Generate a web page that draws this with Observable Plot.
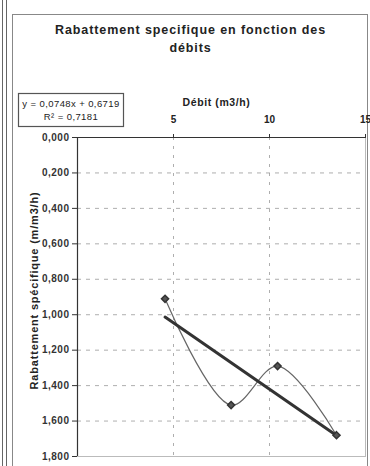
<!DOCTYPE html>
<html><head><meta charset="utf-8">
<script src="https://cdn.jsdelivr.net/npm/d3@7"></script>
<script src="https://cdn.jsdelivr.net/npm/@observablehq/plot@0.6"></script>
<style>body{margin:0;background:#fff;overflow:hidden}</style>
</head><body><div id="chart"></div>
<script>
const debits = [4.56, 8.0, 10.42, 13.49];
const rabattements = [0.91, 1.51, 1.29, 1.68];
const xTicks = [5, 10, 15];
const yTicks = [0, 0.2, 0.4, 0.6, 0.8, 1.0, 1.2, 1.4, 1.6, 1.8];
const slope = 0.0748, intercept = 0.6719;
const title = ["Rabattement specifique en fonction des", "débits"];
const xLabel = "Débit (m3/h)";
const yLabel = "Rabattement spécifique (m/m3/h)";
const eqLines = ["y = 0,0748x + 0,6719", "R² = 0,7181"];

const pts = debits.map((x, i) => ({x, y: rabattements[i]}));
const xMin = d3.min(debits), xMax = d3.max(debits);
const trend = [xMin, xMax].map(x => ({x, y: slope * x + intercept}));
const fmt = d => d3.format(".3f")(d).replace(".", ",");

const W = 370, H = 466;
const mT = 137, mB = 10, mL = 77;
const chart = Plot.plot({
  width: W, height: H,
  marginTop: mT, marginLeft: mL, marginRight: 5, marginBottom: mB,
  style: {fontFamily: "Liberation Sans, Arial, sans-serif", fontSize: "10px", color: "#222", background: "#fff"},
  x: {domain: [0, 15], axis: null},
  y: {domain: [0, 1.8], reverse: true, axis: null},
  marks: [
    Plot.gridY(yTicks.slice(1, -1), {stroke: "#999", strokeOpacity: 1, strokeDasharray: "4,5", strokeWidth: 0.8}),
    Plot.gridX([5, 10], {stroke: "#999", strokeOpacity: 1, strokeDasharray: "3,6", strokeWidth: 0.8}),
    Plot.frame({stroke: "#bbb"}),
    Plot.axisY(yTicks, {anchor: "left", tickFormat: fmt, tickSize: 5, tickPadding: 3, stroke: "#333", fontWeight: "bold", fill: "#333", label: null, className: "ticks"}),
    Plot.axisX(xTicks, {anchor: "top", tickSize: 4, tickPadding: 11, stroke: "#333", fontWeight: "bold", fill: "#222", label: null}),
    Plot.ruleX([0], {stroke: "#333", strokeWidth: 1.2}),
    Plot.ruleY([0], {stroke: "#333", strokeWidth: 1.2}),
    Plot.line(pts, {x: "x", y: "y", curve: "catmull-rom", stroke: "#666", strokeWidth: 1.2}),
    Plot.line(trend, {x: "x", y: "y", stroke: "#333", strokeWidth: 3}),
    Plot.dot(pts, {x: "x", y: "y", symbol: "diamond2", r: 3.2, fill: "#555", stroke: "#333"}),
    Plot.text([title.join("\n")], {frameAnchor: "top", dy: -116, dx: -31, lineHeight: 1.45, fontSize: 12.5, fontWeight: "bold", fill: "#222", lineAnchor: "top", className: "title"}),
    Plot.text([xLabel], {frameAnchor: "top", dy: -39, dx: -5, fontSize: 10.5, fontWeight: "bold", fill: "#222", className: "xlab"})
  ]
});
const svg = d3.select(chart);
svg.selectAll(".title text").style("letter-spacing", "0.9px");
svg.selectAll(".xlab text").style("letter-spacing", "0.6px");
svg.selectAll(".ticks text").style("letter-spacing", "0.5px");
// y axis label
svg.append("text")
  .attr("transform", `translate(35,${(mT + H - mB) / 2 - 6}) rotate(-90)`)
  .attr("text-anchor", "middle").attr("dominant-baseline", "middle")
  .attr("font-family", "Liberation Sans, Arial, sans-serif").attr("font-size", 11).attr("font-weight", "bold")
  .style("letter-spacing", "0.8px").attr("fill", "#222").text(yLabel);
// outer chart border
svg.insert("rect", ":first-child").attr("x", 12.5).attr("y", 14.5).attr("width", 355).attr("height", 460).attr("fill", "#fff").attr("stroke", "#888");
svg.insert("line", ":first-child").attr("x1", 2.5).attr("x2", 2.5).attr("y1", 0).attr("y2", H).attr("stroke", "#666");
svg.append("line").attr("x1", 6.5).attr("x2", 6.5).attr("y1", 0).attr("y2", H).attr("stroke", "#666");
// equation box
const g = svg.append("g");
g.append("rect").attr("x", 18.5).attr("y", 93.5).attr("width", 105).attr("height", 33).attr("fill", "#fff").attr("stroke", "#555").attr("stroke-width", 1.2);
g.selectAll("text").data(eqLines).join("text")
  .attr("x", 71).attr("y", (d, i) => 107 + i * 13)
  .attr("text-anchor", "middle").attr("font-size", 9.5).attr("font-family", "Liberation Sans, Arial, sans-serif")
  .style("letter-spacing", "0.4px")
  .attr("fill", "#222").text(d => d);
document.getElementById("chart").appendChild(chart);
</script></body></html>
